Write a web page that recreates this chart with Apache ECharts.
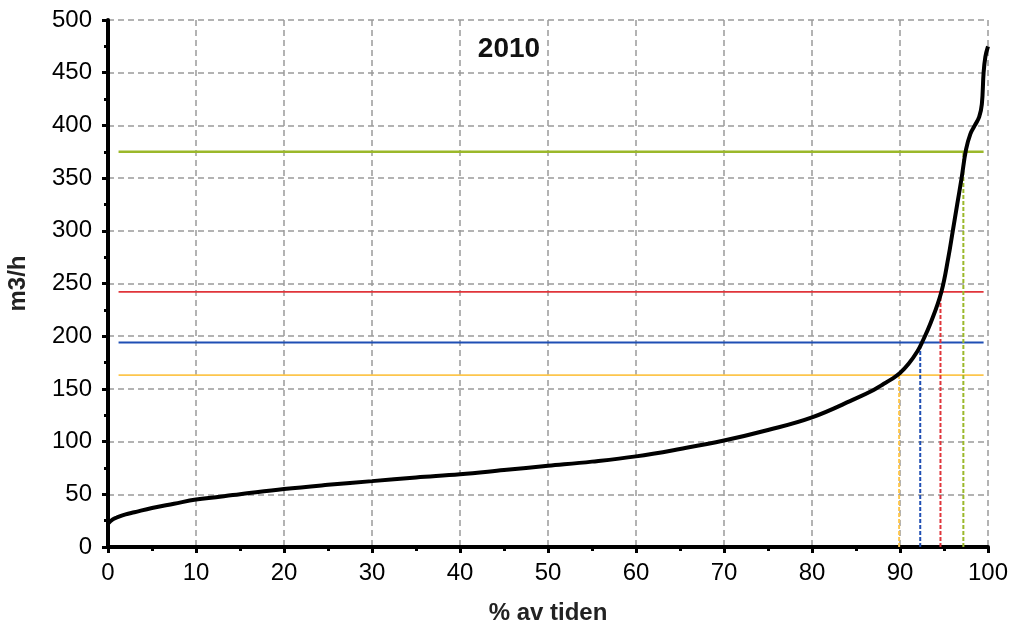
<!DOCTYPE html>
<html>
<head>
<meta charset="utf-8">
<script src="https://cdn.jsdelivr.net/npm/echarts@6/dist/echarts.min.js"></script>
<style>
html,body{margin:0;padding:0;background:#fff;}
#chart{width:1013px;height:629px;}
</style>
</head>
<body>
<div id="chart"></div>
<script>
// Duration curve: % of time vs flow (m3/h)
const pctTime = [0,0.5,1,2,3,5,7.5,10,15,20,25,30,35,40,45,50,55,60,65,70,75,80,85,87,88,89,90,91,92,92.5,93.5,94.7,95.5,96,96.5,97,97.5,98,98.5,99,99.3,99.5,99.7,100];
const flow    = [22,26,28,31,33,37,41,45,50,55,59,62.5,66,69,73,77,81,86,93,101,111,123,141,149,154,159,165,174,186,194,213,242,275,300,325,350,377,392,400,408,420,450,465,475];
// Threshold levels (m3/h) and the % of time where the curve crosses them
const levels    = [163, 194, 242, 375];
const crossings = [89.9, 92.3, 94.6, 97.2];
const hStart = 1.2, hEnd = 99.5;
const levelColors = ['#FDC64C', '#1F4FB4', '#E0353A', '#9BB82A'];
const title = '2010';
const xName = '% av tiden';
const yName = 'm3/h';

const series = [];
levels.forEach((lv, i) => {
  series.push({
    type: 'line', data: [[hStart, lv], [hEnd, lv]], symbol: 'none', silent: true,
    lineStyle: { color: levelColors[i], width: i === 3 ? 2.5 : 1.8 }, z: 3
  });
  series.push({
    type: 'line', data: [[crossings[i], 0], [crossings[i], lv]], symbol: 'none', silent: true,
    lineStyle: { color: levelColors[i], width: 2, type: [4, 2] }, z: 3
  });
});
series.push({
  type: 'line', data: pctTime.map((x, i) => [x, flow[i]]), symbol: 'none', smooth: 0.4,
  lineStyle: { color: '#000', width: 4 }, z: 5
});

const chart = echarts.init(document.getElementById('chart'), null, { renderer: 'canvas' });
const font = 'Liberation Sans, Arial, sans-serif';
chart.setOption({
  animation: false,
  backgroundColor: '#fff',
  title: {
    text: title, left: 504, top: 30, textAlign: 'center',
    textStyle: { fontFamily: font, fontSize: 28, fontWeight: 'bold', color: '#111' }
  },
  grid: { left: 108, right: 25, top: 20, bottom: 82, containLabel: false, outerBoundsMode: 'none' },
  xAxis: {
    type: 'value', min: 0, max: 100, interval: 10,
    name: xName, nameLocation: 'middle', nameGap: 54,
    nameTextStyle: { fontFamily: font, fontSize: 24, fontWeight: 'bold', color: '#222' },
    axisLine: { show: true, onZero: false, lineStyle: { color: '#000', width: 4 } },
    axisTick: { show: true, length: 6, lineStyle: { color: '#000', width: 3 } },
    minorTick: { show: true, splitNumber: 2, length: 4, lineStyle: { color: '#000', width: 3 } },
    axisLabel: { fontFamily: font, fontSize: 24, color: '#000', margin: 14 },
    splitLine: { show: true, lineStyle: { color: '#9a9a9a', width: 1.5, type: [6, 4] } }
  },
  yAxis: {
    type: 'value', min: 0, max: 500, interval: 50,
    name: yName, nameLocation: 'middle', nameGap: 78, nameRotate: 90,
    nameTextStyle: { fontFamily: font, fontSize: 24, fontWeight: 'bold', color: '#222' },
    axisLine: { show: true, lineStyle: { color: '#000', width: 4 } },
    axisTick: { show: true, length: 6, lineStyle: { color: '#000', width: 3 } },
    minorTick: { show: true, splitNumber: 2, length: 4, lineStyle: { color: '#000', width: 3 } },
    axisLabel: { fontFamily: font, fontSize: 24, color: '#000', margin: 16 },
    splitLine: { show: true, lineStyle: { color: '#9a9a9a', width: 1.5, type: [6, 4] } }
  },
  series: series
});
</script>
</body>
</html>
